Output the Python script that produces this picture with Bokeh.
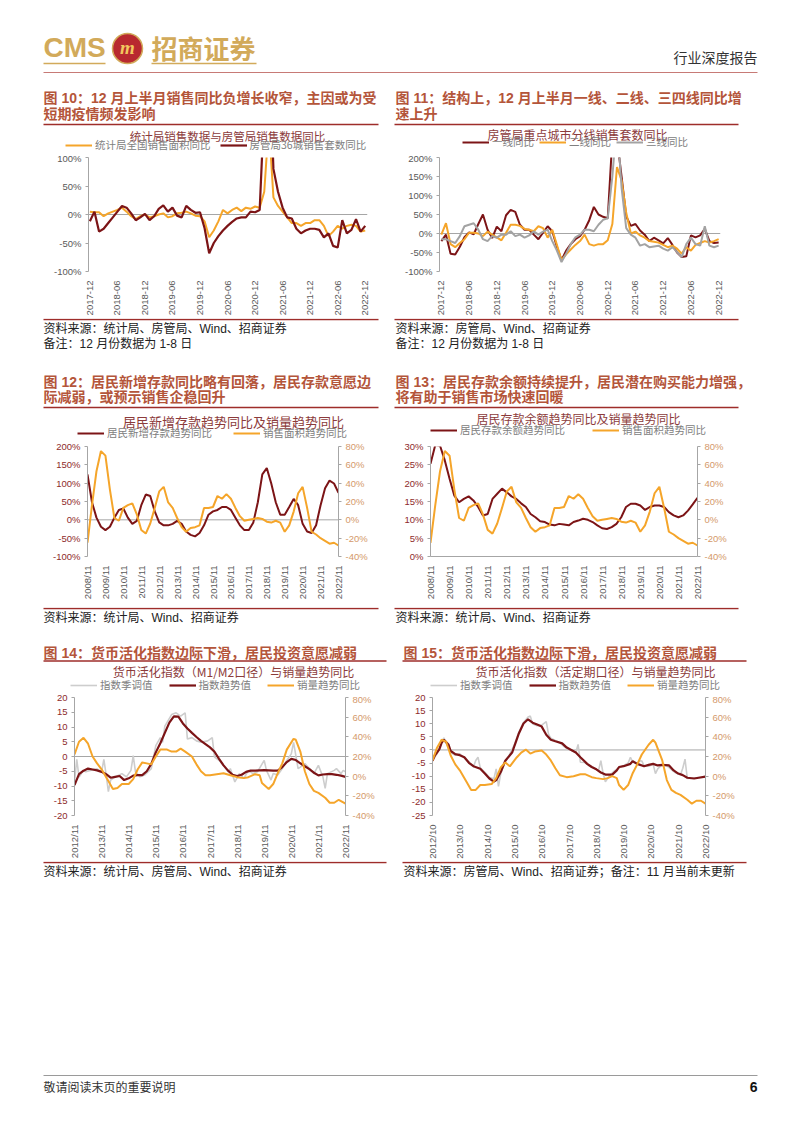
import math
from bokeh.plotting import figure
from bokeh.models import (Range1d, LinearAxis, FixedTicker, PrintfTickFormatter,
                          Span, Legend, LegendItem)
from bokeh.layouts import column, row
from bokeh.embed import file_html
from bokeh.resources import INLINE
from bokeh.core.properties import value

# ============================ DATA ============================
# Fig 10 / 11 : monthly, 2017-12 .. 2022-12
MONTHS_17 = list(range(61))
X10_TICKS = [0, 6, 12, 18, 24, 30, 36, 42, 48, 54, 60]
X10_LABELS = ["2017-12", "2018-06", "2018-12", "2019-06", "2019-12", "2020-06",
              "2020-12", "2021-06", "2021-12", "2022-06", "2022-12"]
NBS_AREA_YOY = [5, 4, 4, -3, 2, 5, 8, 12, 5, -3, -8, -3, 0, -5, -3, 0, 2, -5, -3, 2,
                3, 5, 2, -2, -3, -12, -40, -28, -12, 8, 2, 8, 12, 6, 12, 10, 14, 12, 40, 160,
                30, 15, 5, -5, -15, -15, -20, -15, -15, -10, -10, -20, -38, -30, -20, -25, -20, -18, -20, -30,
                -28]
CITY36_YOY = [-12, 5, -30, -25, -15, -5, 5, 15, 12, 2, -10, -5, 1, -10, -3, 10, 16, 5, 12, -2,
              -5, 15, 8, 3, 4, -24, -68, -50, -38, -28, -20, -13, -7, -5, -5, 5, 4, 8, 190, 300,
              80, 40, 12, -5, -7, -25, -33, -28, -25, -25, -27, -40, -33, -55, -58, -10, -33, -27, -8, -30,
              -20]
TIER1_YOY = [-20, -3, -53, -55, -35, -10, 3, -2, 25, 50, 10, -12, 18, 6, 48, 62, 57, 23, 10, 10,
             -3, -15, 2, 19, 6, -35, -70, -45, -28, -15, -7, 10, 35, 70, 50, 44, 40, 250, 250, 150,
             45, 20, 25, 8, -3, -20, -11, -18, -26, -12, -30, -50, -62, -60, -5, -10, -5, 12, -20, -25,
             -24]
TIER2_YOY = [-3, 27, -28, -36, -25, -15, 2, 2, 0, -7, 5, -3, -10, -18, 2, 23, 23, 20, 12, 10,
             6, 19, 14, -11, 10, -30, -70, -55, -42, -30, -20, -3, -28, -32, -28, -28, -18, 25, 175, 140,
             55, 0, 5, -5, -11, -20, -22, -24, -30, -36, -32, -40, -53, -36, -45, -30, -25, -20, -24, -20,
             -15]
TIER3_YOY = [-15, -15, -20, -25, -7, 19, 23, 27, 10, -15, -20, -7, -11, -3, -3, 6, -7, -3, -11, -5,
             6, -3, 5, 10, -20, -45, -75, -53, -28, -10, -3, 10, 10, 6, 23, 36, 40, 150, 300, 120,
             14, -3, -11, -32, -28, -36, -34, -32, -40, -45, -36, -49, -62, -28, -11, -28, -32, 19, -32, -36,
             -32]

# Fig 12 / 13 : quarterly points, 2008/11 .. 2022/11 (month offsets)
QUARTERS_08 = list(range(0, 169, 3))
X12_TICKS = list(range(0, 169, 12))
X12_LABELS = ["2008/11", "2009/11", "2010/11", "2011/11", "2012/11", "2013/11", "2014/11",
              "2015/11", "2016/11", "2017/11", "2018/11", "2019/11", "2020/11", "2021/11", "2022/11"]
NEW_DEPOSIT_TREND_YOY = [124, 48, 6, -19, -28, -19, 6, 27, 31, 6, -11, -3, 40, 69, 65, 23, -7, -15, -15, -11,
                         -3, -11, -32, -41, -45, -36, -15, 14, 23, 27, 35, 35, 27, 6, -15, -28, -28, -7, 48, 124,
                         141, 99, 48, 14, 14, 35, 57, 40, -11, -32, -36, -15, 40, 86, 107, 99, 74]
SALES_AREA_TREND_YOY = [-25, 16, 53, 75, 70, 33, 2, -1, 13, 16, 18, 6, -11, -15, -4, 13, 31, 36, 19, 13,
                        2, -8, -13, -9, -8, -6, 13, 13, 14, 26, 23, 28, 23, 13, 4, -1, 0, 1, 2, 1,
                        -2, -3, -1, -3, -13, -6, 9, 29, 36, 13, -13, -16, -20, -23, -26, -25, -28]
DEPOSIT_BAL_TREND_YOY = [25.3, 30.4, 30.2, 26.2, 21.2, 16.6, 14.8, 15.7, 16.4, 15.3, 13.5, 11.2, 11.6, 15.7,
                         17.1, 18.5, 17.5, 16.4, 15.7, 14.5, 13.5, 11.6, 10.7, 9.6, 9.4, 8.7, 8.5, 8.9,
                         8.7, 8.5, 9.4, 9.8, 10.3, 10.0, 9.4, 8.5, 7.7, 7.5, 8.0, 8.9, 10.7, 13.5, 14.4,
                         14.4, 13.9, 12.7, 13.5, 13.9, 13.9, 13.5, 12.1, 11.2, 10.7, 11.2, 12.5, 14.2, 16.0]

# Fig 14 : M1/M2 activation index, 2012/11 .. 2022/11 (month offsets)
X14_TICKS = list(range(0, 121, 12))
X14_LABELS = ["2012/11", "2013/11", "2014/11", "2015/11", "2016/11", "2017/11",
              "2018/11", "2019/11", "2020/11", "2021/11", "2022/11"]
M14_SA_X = [0, 1, 2, 4, 5, 7, 10, 12, 13, 14, 15, 16, 18, 21, 23, 25, 26, 27, 29, 31,
            34, 36, 38, 39, 40, 43, 45, 47, 49, 50, 52, 54, 56, 59, 61, 62, 64, 66, 68, 69,
            71, 73, 75, 77, 79, 81, 84, 85, 87, 88, 90, 92, 94, 96, 97, 99, 100, 102, 104, 106,
            108, 110, 111, 112, 115, 116, 118, 119, 120]
M14_SA = [-8.6, -1.0, -7.0, -4.7, -5.2, -4.7, -4.2, -5.2, -1.0, -6.1, -11.9, -8.0, -6.9, -5.8, -6.9, -4.7, 0.3,
          -5.2, -6.9, -6.3, -4.1, 3.7, 6.4, 4.8, 10.3, 14.2, 14.8, 13.7, 14.8, 5.9, 6.4, 5.3, 4.8, 5.3,
          6.4, -0.2, -1.3, -3.0, -5.2, -4.1, -8.6, -5.8, -7.4, -4.7, -5.8, -5.2, -1.3, -4.7, -8.0, -5.8,
          -6.3, -4.1, -1.3, 0.9, 4.8, -4.1, -3.6, -2.4, -4.1, -5.8, -3.0, -6.9, -10.8, -5.8, -4.7, -4.1,
          -5.8, -4.7, -5.2]
M14_TREND_X = list(range(0, 121, 2))
M14_TREND = [-9.7, -6.0, -4.8, -4.1, -4.4, -4.7, -5.2, -6.0, -7.2, -6.9, -6.6, -8.0, -7.4, -6.5, -6.3, -6.3,
             -5.0, -2.5, 1.4, 4.5, 8.0, 11.5, 13.6, 13.5, 11.2, 9.5, 8.0, 6.6, 5.3, 4.2, 3.1, 1.6, -0.8,
             -3.0, -4.8, -6.2, -6.6, -6.2, -5.2, -4.8, -4.8, -4.7, -4.6, -4.7, -4.8, -4.8, -3.6, -1.9,
             -0.8, -1.2, -2.3, -3.3, -4.3, -5.5, -6.4, -6.1, -6.0, -6.0, -6.2, -6.5, -6.9]
SALES14_X = [0, 2, 4, 6, 8, 10, 12, 15, 17, 19, 21, 24, 26, 28, 30, 32, 34, 36, 38, 41,
             43, 45, 47, 49, 52, 54, 56, 58, 60, 63, 66, 69, 72, 75, 77, 80, 82, 83, 86, 88,
             90, 92, 94, 97, 98, 100, 102, 104, 106, 108, 111, 113, 115, 117, 120]
SALES14 = [22, 35, 39, 33, 20, 13, 7, -5, -13, -12, -8, -8, -3, 7, 14, 13, 12, 20, 27, 27,
           25, 25, 28, 25, 20, 12, 5, 1, 1, 2, 3, 1, -1, -2, -1, 2, 1, -7, -13, -8,
           3, 13, 27, 38, 37, 25, 5, -8, -15, -17, -22, -27, -27, -24, -28]

# Fig 15 : demand/time deposit activation index, 2012/10 .. 2022/10
X15_LABELS = ["2012/10", "2013/10", "2014/10", "2015/10", "2016/10", "2017/10",
              "2018/10", "2019/10", "2020/10", "2021/10", "2022/10"]
M15_SA_X = [0, 2, 3, 5, 6, 8, 10, 12, 14, 16, 18, 19, 20, 21, 23, 25, 27, 28, 29, 30,
            32, 34, 36, 38, 40, 42, 43, 44, 46, 48, 50, 51, 52, 54, 56, 58, 60, 62, 63, 64,
            65, 67, 69, 71, 73, 74, 75, 76, 78, 80, 82, 84, 86, 87, 88, 90, 91, 92, 93, 95,
            97, 98, 99, 101, 103, 105, 107, 109, 110, 111, 112, 114, 116, 118, 120]
M15_SA = [-3.8, -1.5, 0.8, 4.6, 2.5, -1.0, -2.0, -1.5, -3.0, -4.5, -6.5, -4.0, -2.8, -6.8, -8.5, -10.5,
          -11.0, -7.2, -13.9, -9.0, -4.5, -1.5, 2.0, 6.8, 10.5, 12.6, 12.9, 10.0, 9.2, 9.5, 10.8, 6.0,
          4.5, 3.6, 2.8, 1.2, 0.2, -0.5, -1.0, 2.1, -4.7, -4.8, -6.2, -7.0, -7.8, -4.1, -9.0, -12.1,
          -9.6, -8.0, -6.8, -6.0, -5.0, -2.8, -4.5, -5.5, -4.1, -4.2, -6.0, -6.2, -5.5, -9.0, -7.2,
          -5.5, -6.0, -7.5, -8.8, -9.5, -7.0, -3.5, -10.9, -10.8, -10.6, -10.4, -10.0]
M15_TREND_X = [0, 1, 3, 4, 5, 7, 8, 10, 12, 14, 16, 18, 21, 23, 25, 27, 28, 30, 32, 35,
               36, 38, 40, 42, 44, 46, 48, 50, 52, 54, 57, 59, 61, 63, 65, 68, 70, 72, 74, 76,
               79, 81, 82, 84, 87, 88, 90, 93, 95, 97, 99, 101, 104, 106, 108, 110, 112, 115, 117, 120]
M15_TREND = [-4.1, -2.2, 0.2, 2.7, 3.9, 2.1, -0.4, -1.6, -2.0, -2.8, -4.9, -6.2, -7.2, -9.0, -10.9, -12.1,
             -11.5, -8.4, -4.1, -1.0, 1.5, 6.4, 10.1, 11.7, 10.4, 9.7, 8.9, 5.8, 3.9, 3.3, 2.5, 0.9, 0,
             -1.0, -2.8, -5.3, -6.5, -7.4, -8.6, -9.4, -9.4, -7.8, -6.5, -6.2, -5.3, -4.3, -5.3, -6.2,
             -5.7, -5.3, -5.9, -5.7, -5.9, -7.8, -9.0, -9.6, -10.6, -10.9, -10.6, -10.2]
SALES15_X = [0, 2, 4, 6, 8, 10, 12, 15, 17, 19, 21, 23, 26, 28, 30, 32, 34, 37, 39, 41,
             43, 45, 48, 50, 52, 54, 56, 59, 62, 65, 67, 70, 72, 75, 77, 79, 81, 82, 84, 86,
             88, 90, 92, 95, 97, 98, 101, 103, 105, 107, 109, 112, 114, 116, 118, 120]
SALES15 = [16, 29, 37, 35, 21, 12, 6, -6, -14, -14, -9, -9, -8, -2, 9, 14, 10, 19, 24, 27,
           23, 25, 26, 22, 16, 8, 1, -1, 0, 2, 2, -1, -2, -3, -2, 0, -2, -9, -14, -9,
           3, 12, 22, 32, 37, 34, 16, -4, -14, -17, -19, -24, -28, -25, -25, -28]

# ============================ STYLE ============================
CJK = "Noto Sans CJK SC"
MIX = "Liberation Sans, Noto Sans CJK SC"
NUM = "Liberation Sans"
DARK = "#7C1416"
ORANGE = "#F5A52A"
GRAY3 = "#A3A3A3"
LIGHT = "#CDCDCD"
HEAD = "#B4553A"
RULE = "#9E2D2A"
CTITLE = "#8C3B3B"
LEG = "#808080"
TICK = "#595959"
LEFTC = "#8E2B2B"
RIGHTC = "#D4996A"
AXIS = "#A6A6A6"
GOLD = "#D2AA5A"


def band(y0, y1):
    """Decorative strip of the page; its ranges are page pixel coordinates."""
    p = figure(width=786, height=y1 - y0, x_range=Range1d(8, 794), y_range=Range1d(y1, y0),
               output_backend="svg", toolbar_location=None, x_axis_location=None,
               y_axis_location=None, min_border_left=0, min_border_right=0,
               min_border_top=0, min_border_bottom=0, outline_line_color=None)
    p.grid.visible = False
    return p


def txt(p, x, y, s, size, color, style="normal", align="left", font=MIX):
    p.text(x=[x], y=[y], text=[s], text_font=value(font), text_font_size=size,
           text_font_style=style, text_color=color, text_align=align, text_baseline="middle")


def rule(p, x0, x1, y, color=RULE, w=1.6):
    p.segment(x0=[x0], y0=[y], x1=[x1], y1=[y], line_color=color, line_width=w)


def chart_title(p, x, y, s, size):
    txt(p, x, y, s, size, CTITLE, align="center", font=CJK)


def band_legend(p, band_bottom, px, py, items, spacing):
    """Chart legend drawn in the strip above the chart; swatches use the series' line styles."""
    its = []
    for label, color, width in items:
        # swatch-only renderer, its two points lie outside the strip's visible range
        r = p.line(x=[-200, -190], y=[-200, -200], line_color=color, line_width=width)
        its.append(LegendItem(label=value(label), renderers=[r]))
    leg = Legend(items=its, location=(px - 8, band_bottom - (py + 5)),
                 orientation="horizontal", spacing=spacing, padding=0, margin=0,
                 glyph_width=27, glyph_height=10, label_height=10, label_standoff=3,
                 label_text_font=CJK, label_text_font_size="10.5px", label_text_color=LEG,
                 border_line_color=None, background_fill_alpha=0)
    p.add_layout(leg)


def chart(w, h, bl, br, bt, bb, xr, yr):
    p = figure(width=w, height=h, x_range=Range1d(*xr), y_range=Range1d(*yr),
               output_backend="svg", toolbar_location=None,
               min_border_left=bl, min_border_right=br, min_border_top=bt, min_border_bottom=bb,
               outline_line_color=None)
    p.xgrid.visible = False
    p.ygrid.visible = False
    return p


def style_y(ax, ticks, fmt, color):
    ax.ticker = FixedTicker(ticks=ticks)
    ax.formatter = PrintfTickFormatter(format=fmt)
    ax.axis_line_color = AXIS
    ax.major_tick_line_color = AXIS
    ax.major_tick_out = 3
    ax.major_tick_in = 0
    ax.minor_tick_line_color = None
    ax.major_label_text_font = NUM
    ax.major_label_text_font_size = "9.5px"
    ax.major_label_text_color = color
    ax.major_label_standoff = 4


def style_x(ax, ticks, labels, line=False):
    ax.ticker = FixedTicker(ticks=ticks)
    ax.major_label_overrides = {t: l for t, l in zip(ticks, labels)}
    ax.major_label_orientation = math.pi / 2
    ax.axis_line_color = AXIS if line else None
    ax.major_tick_line_color = None
    ax.minor_tick_line_color = None
    ax.major_label_text_font = NUM
    ax.major_label_text_font_size = "9.5px"
    ax.major_label_text_color = TICK
    ax.major_label_standoff = 3


def right_axis(p, rng, ticks):
    p.extra_y_ranges = {"r": Range1d(*rng)}
    ax = LinearAxis(y_range_name="r")
    p.add_layout(ax, "right")
    style_y(ax, ticks, "%d%%", RIGHTC)
    return ax


def zero(p):
    p.add_layout(Span(location=0, dimension="width", line_color=AXIS, line_width=1, level="underlay"))


# ============================ HEADER ============================
hdr = band(8, 80)
txt(hdr, 43, 47, "CMS", "28px", GOLD, "bold", font=NUM)
rule(hdr, 43, 105, 63, GOLD, 1.5)
hdr.ellipse(x=[127], y=[48], width=30, height=30, fill_color="#B8292F", line_color=GOLD, line_width=1.5)
txt(hdr, 127, 47, "m", "19px", "#F2C75E", "bold italic", "center", font="Liberation Serif")
txt(hdr, 151, 47, "招商证券", "26px", GOLD, "bold", font=CJK)
rule(hdr, 151, 256, 63, GOLD, 1.5)
txt(hdr, 757, 56, "行业深度报告", "14px", "#333333", align="right", font=CJK)
rule(hdr, 43, 757, 72, "#C77A76", 1)

# ============================ ROW 1 ============================
h1 = band(80, 152)
txt(h1, 43, 97, "图 10：12 月上半月销售同比负增长收窄，主因或为受", "14px", HEAD, "bold")
txt(h1, 43, 113, "短期疫情频发影响", "14px", HEAD, "bold")
txt(h1, 395, 97, "图 11：结构上，12 月上半月一线、二线、三四线同比增", "14px", HEAD, "bold")
txt(h1, 395, 113, "速上升", "14px", HEAD, "bold")
rule(h1, 43, 378, 124)
rule(h1, 394, 738, 124)
chart_title(h1, 227, 135, "统计局销售数据与房管局销售数据同比", "11.5px")
band_legend(h1, 152, 65, 147, [("统计局全国销售面积同比", ORANGE, 2), ("房管局36城销售套数同比", DARK, 2.2)], 9)
chart_title(h1, 577, 134, "房管局重点城市分线销售套数同比", "12px")
band_legend(h1, 152, 462, 144, [("一线同比", DARK, 2), ("二线同比", ORANGE, 2), ("三线同比", GRAY3, 2)], 5)

p10 = chart(385, 166, 80, 26, 4, 43, (-0.3, 60.5), (-100, 100))
style_y(p10.yaxis[0], [-100, -50, 0, 50, 100], "%d%%", TICK)
style_x(p10.xaxis[0], X10_TICKS, X10_LABELS)
zero(p10)
p10.line(MONTHS_17, NBS_AREA_YOY, line_color=ORANGE, line_width=2)
p10.line(MONTHS_17, CITY36_YOY, line_color=DARK, line_width=2.2)

p11 = chart(401, 166, 46, 74, 5, 42, (-0.4, 60.4), (-100, 200))
style_y(p11.yaxis[0], [-100, -50, 0, 50, 100, 150, 200], "%d%%", TICK)
style_x(p11.xaxis[0], X10_TICKS, X10_LABELS)
zero(p11)
p11.line(MONTHS_17, TIER1_YOY, line_color=DARK, line_width=2)
p11.line(MONTHS_17, TIER2_YOY, line_color=ORANGE, line_width=2)
p11.line(MONTHS_17, TIER3_YOY, line_color=GRAY3, line_width=2)

f1 = band(318, 360)
rule(f1, 43, 378, 319)
rule(f1, 394, 738, 319)
txt(f1, 43, 328, "资料来源：统计局、房管局、Wind、招商证券", "12px", "#222222")
txt(f1, 43, 343, "备注：12 月份数据为 1-8 日", "12px", "#222222")
txt(f1, 395, 328, "资料来源：房管局、Wind、招商证券", "12px", "#222222")
txt(f1, 395, 343, "备注：12 月份数据为 1-8 日", "12px", "#222222")

# ============================ ROW 2 ============================
h2 = band(360, 440)
txt(h2, 43, 381, "图 12：居民新增存款同比略有回落，居民存款意愿边", "14px", HEAD, "bold")
txt(h2, 43, 396, "际减弱，或预示销售企稳回升", "14px", HEAD, "bold")
txt(h2, 395, 381, "图 13：居民存款余额持续提升，居民潜在购买能力增强，", "14px", HEAD, "bold")
txt(h2, 395, 396, "将有助于销售市场快速回暖", "14px", HEAD, "bold")
rule(h2, 43, 378, 407)
rule(h2, 394, 738, 407)
chart_title(h2, 233, 421, "居民新增存款趋势同比及销量趋势同比", "13px")
band_legend(h2, 440, 77, 435, [("居民新增存款趋势同比", DARK, 2), ("销售面积趋势同比", ORANGE, 2)], 21)
chart_title(h2, 578, 418, "居民存款余额趋势同比及销量趋势同比", "12px")
band_legend(h2, 440, 430, 432, [("居民存款余额趋势同比", DARK, 2), ("销售面积趋势同比", ORANGE, 2)], 27)

p12 = chart(385, 167, 79, 55, 3, 45, (0, 168), (-100, 200))
style_y(p12.yaxis[0], [-100, -50, 0, 50, 100, 150, 200], "%d%%", LEFTC)
right_axis(p12, (-40, 80), [-40, -20, 0, 20, 40, 60, 80])
style_x(p12.xaxis[0], X12_TICKS, X12_LABELS)
zero(p12)
p12.line(QUARTERS_08, NEW_DEPOSIT_TREND_YOY, line_color=DARK, line_width=2)
p12.line(QUARTERS_08, SALES_AREA_TREND_YOY, line_color=ORANGE, line_width=2, y_range_name="r")

p13 = chart(401, 167, 37, 97, 6, 51, (0, 168), (0, 30))
style_y(p13.yaxis[0], [0, 5, 10, 15, 20, 25, 30], "%d%%", LEFTC)
right_axis(p13, (-40, 80), [-40, -20, 0, 20, 40, 60, 80])
style_x(p13.xaxis[0], X12_TICKS, X12_LABELS, line=True)
p13.line(QUARTERS_08, DEPOSIT_BAL_TREND_YOY, line_color=DARK, line_width=2)
p13.line(QUARTERS_08, SALES_AREA_TREND_YOY, line_color=ORANGE, line_width=2, y_range_name="r")

f2 = band(607, 640)
rule(f2, 43, 378, 608)
rule(f2, 394, 738, 608)
txt(f2, 43, 617, "资料来源：统计局、Wind、招商证券", "12px", "#222222")
txt(f2, 395, 617, "资料来源：统计局、Wind、招商证券", "12px", "#222222")

# ============================ ROW 3 ============================
h3 = band(640, 693)
txt(h3, 43, 652, "图 14：货币活化指数边际下滑，居民投资意愿减弱", "14px", HEAD, "bold")
txt(h3, 403, 652, "图 15：货币活化指数边际下滑，居民投资意愿减弱", "14px", HEAD, "bold")
rule(h3, 43, 386, 660.5)
rule(h3, 402, 746, 660.5)
chart_title(h3, 233, 671, "货币活化指数（M1/M2口径）与销量趋势同比", "12px")
band_legend(h3, 693, 70, 687, [("指数季调值", LIGHT, 1.6), ("指数趋势值", DARK, 2.2), ("销量趋势同比", ORANGE, 2)], 16)
chart_title(h3, 595, 671, "货币活化指数（活定期口径）与销量趋势同比", "12px")
band_legend(h3, 693, 430, 687, [("指数季调值", LIGHT, 1.6), ("指数趋势值", DARK, 2.2), ("销量趋势同比", ORANGE, 2)], 16)

p14 = chart(385, 168, 66, 48, 4, 42, (0, 120), (-20, 20))
style_y(p14.yaxis[0], [-20, -15, -10, -5, 0, 5, 10, 15, 20], "%d", LEFTC)
right_axis(p14, (-40, 80), [-40, -20, 0, 20, 40, 60, 80])
style_x(p14.xaxis[0], X14_TICKS, X14_LABELS)
zero(p14)
p14.line(M14_SA_X, M14_SA, line_color=LIGHT, line_width=1.6)
p14.line(M14_TREND_X, M14_TREND, line_color=DARK, line_width=2.2)
p14.line(SALES14_X, SALES14, line_color=ORANGE, line_width=2, y_range_name="r")

p15 = chart(401, 168, 39, 89, 4, 41, (0, 120), (-25, 20))
style_y(p15.yaxis[0], [-25, -20, -15, -10, -5, 0, 5, 10, 15, 20], "%d", LEFTC)
right_axis(p15, (-40, 80), [-40, -20, 0, 20, 40, 60, 80])
style_x(p15.xaxis[0], X14_TICKS, X15_LABELS)
zero(p15)
p15.line(M15_SA_X, M15_SA, line_color=LIGHT, line_width=1.6)
p15.line(M15_TREND_X, M15_TREND, line_color=DARK, line_width=2.2)
p15.line(SALES15_X, SALES15, line_color=ORANGE, line_width=2, y_range_name="r")

f3 = band(861, 1125)
rule(f3, 43, 386, 862)
rule(f3, 402, 746, 862)
txt(f3, 43, 871, "资料来源：统计局、房管局、Wind、招商证券", "12px", "#222222")
txt(f3, 403, 871, "资料来源：房管局、Wind、招商证券；备注：11 月当前未更新", "12px", "#222222")
rule(f3, 43, 757, 1075, "#9A9A9A", 1)
txt(f3, 43, 1086, "敬请阅读末页的重要说明", "12px", "#333333", font=CJK)
txt(f3, 757, 1086, "6", "14px", "#111111", "bold", "right", font=NUM)

layout = column(hdr, h1, row(p10, p11), f1, h2, row(p12, p13), f2, h3, row(p14, p15), f3,
                margin=(8, 0, 0, 8))

open("out.html", "w").write(file_html(layout, INLINE))
